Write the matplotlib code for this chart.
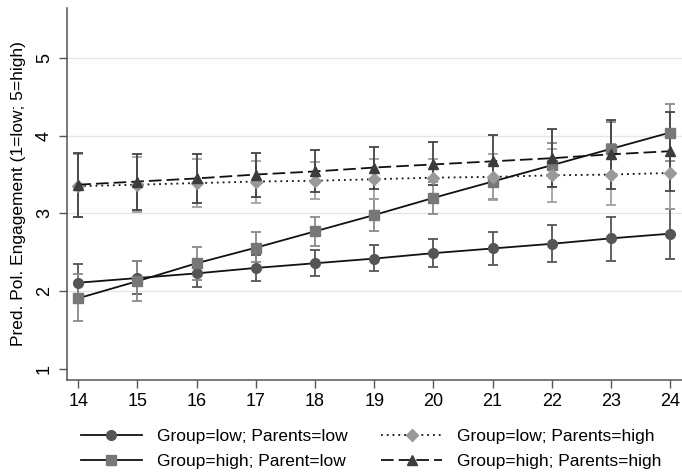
import matplotlib
matplotlib.use("Agg")
import matplotlib.pyplot as plt
import numpy as np

plt.rcParams['font.family'] = ['Liberation Sans', 'DejaVu Sans']

ages = [14, 15, 16, 17, 18, 19, 20, 21, 22, 23, 24]

labels = ["Group=low; Parents=low", "Group=high; Parent=low",
          "Group=low; Parents=high", "Group=high; Parents=high"]

gl_pl = [2.11, 2.17, 2.23, 2.30, 2.36, 2.42, 2.49, 2.55, 2.61, 2.68, 2.74]
gl_pl_lo = [1.87, 1.96, 2.05, 2.13, 2.20, 2.26, 2.31, 2.34, 2.37, 2.39, 2.42]
gl_pl_hi = [2.35, 2.39, 2.42, 2.47, 2.53, 2.59, 2.67, 2.76, 2.85, 2.95, 3.06]

gh_pl = [1.91, 2.13, 2.36, 2.56, 2.77, 2.98, 3.20, 3.41, 3.62, 3.83, 4.04]
gh_pl_lo = [1.62, 1.88, 2.14, 2.37, 2.58, 2.78, 2.99, 3.18, 3.34, 3.50, 3.67]
gh_pl_hi = [2.22, 2.39, 2.57, 2.76, 2.96, 3.18, 3.41, 3.63, 3.90, 4.17, 4.41]

gl_ph = [3.35, 3.37, 3.39, 3.41, 3.42, 3.44, 3.46, 3.47, 3.49, 3.50, 3.52]
gl_ph_lo = [2.95, 3.02, 3.08, 3.14, 3.18, 3.18, 3.22, 3.17, 3.15, 3.11, 3.06]
gl_ph_hi = [3.76, 3.72, 3.70, 3.68, 3.66, 3.70, 3.70, 3.77, 3.83, 3.89, 3.98]

gh_ph = [3.37, 3.41, 3.45, 3.50, 3.54, 3.59, 3.63, 3.67, 3.71, 3.76, 3.80]
gh_ph_lo = [2.95, 3.05, 3.14, 3.21, 3.27, 3.31, 3.36, 3.37, 3.34, 3.31, 3.29]
gh_ph_hi = [3.78, 3.77, 3.77, 3.78, 3.81, 3.86, 3.92, 4.01, 4.09, 4.20, 4.30]

yticks = [1, 2, 3, 4, 5]

series = [
    (gl_pl, gl_pl_lo, gl_pl_hi, 'o', '#555555', '#555555', '-', 7),
    (gh_pl, gh_pl_lo, gh_pl_hi, 's', '#777777', '#8a8a8a', '-', 7),
    (gl_ph, gl_ph_lo, gl_ph_hi, 'D', '#999999', '#a0a0a0', (0, (1, 2.2)), 6.5),
    (gh_ph, gh_ph_lo, gh_ph_hi, '^', '#3c3c3c', '#444444', (0, (7, 2.8)), 7.5),
]

fig = plt.figure(figsize=(6.82, 4.72), dpi=100)
ax = fig.add_axes([67/682, 92/472, 1 - 67/682, (380 - 8)/472])

x = np.array(ages)
handles = []
for i, (m, lo, hi, mk, mc, ec, ls, ms) in enumerate(series):
    m = np.array(m); lo = np.array(lo); hi = np.array(hi)
    ax.errorbar(x, m, yerr=[m - lo, hi - m], fmt='none', ecolor=ec,
                elinewidth=1.3, capsize=3.4, capthick=1.3, zorder=2 + i * 0.1)
for i, (m, lo, hi, mk, mc, ec, ls, ms) in enumerate(series):
    h, = ax.plot(x, m, color='#111111', linestyle=ls, linewidth=1.3,
                 marker=mk, markersize=ms, markerfacecolor=mc,
                 markeredgecolor=mc, zorder=4 + i * 0.1, label=labels[i])
    handles.append(h)

ax.set_xlim(13.81, 24.2)
ax.set_ylim(0.86, 5.64)
ax.set_xticks(ages)
ax.set_yticks(yticks)
ax.set_yticklabels([str(t) for t in yticks], rotation=90, va='center')
ax.tick_params(axis='both', labelsize=13, length=6, width=1.0, color='#555555')
ax.tick_params(axis='x', pad=3)
ax.tick_params(axis='y', pad=4)

for s in ['top', 'right']:
    ax.spines[s].set_visible(False)
for s in ['left', 'bottom']:
    ax.spines[s].set_color('#555555')
    ax.spines[s].set_linewidth(1.1)

for t in yticks[1:]:
    ax.axhline(t, color='#e6e6e6', linewidth=1.0, zorder=0)

ax.set_ylabel("Pred. Pol. Engagement (1=low; 5=high)", fontsize=12.5, labelpad=7)

fig.legend(handles=handles, labels=labels, ncol=2, frameon=False,
           loc='upper left', bbox_to_anchor=(74/682, (472 - 422)/472),
           borderaxespad=0, fontsize=12.5,
           handlelength=3.5, columnspacing=1.95, labelspacing=0.58,
           handletextpad=0.86)

fig.savefig("out.png", dpi=100)
